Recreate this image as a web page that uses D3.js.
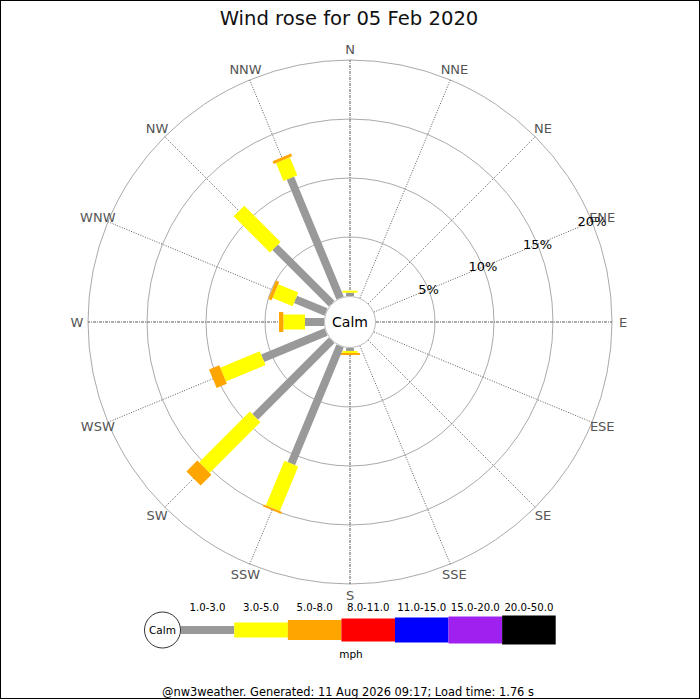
<!DOCTYPE html>
<html>
<head>
<meta charset="utf-8">
<script src="https://cdn.jsdelivr.net/npm/d3@7"></script>
<style>
  body { margin: 0; background: #fff; }
  svg { display: block; font-family: "DejaVu Sans", sans-serif; }
</style>
</head>
<body>
<svg id="chart" width="700" height="700"></svg>
<script>
// ---- data ----
const directions = ["N","NNE","NE","ENE","E","ESE","SE","SSE","S","SSW","SW","WSW","W","WNW","NW","NNW"];
const speedBands = ["1.0-3.0","3.0-5.0","5.0-8.0","8.0-11.0","11.0-15.0","15.0-20.0","20.0-50.0"];
const bandColors = ["#999999","#ffff00","#ffa500","#ff0000","#0000ff","#a020f0","#000000"];
// percentage of time per direction, per speed band (mph)
const band1to3  = [0.28,0,0,0,0,0,0,0,0.25,10.79,9.17,5.81,1.61,2.80,6.76,11.00];
const band3to5  = [0.17,0,0,0,0,0,0,0,0.17,4.09,6.08,3.63,1.84,1.84,4.34,1.65];
const band5to8  = [0,0,0,0,0,0,0,0,0.17,0.17,1.30,0.94,0.36,0.30,0,0.25];
const band8to11 = [0,0,0,0,0,0,0,0,0,0,0,0,0,0,0,0];
const band11to15= [0,0,0,0,0,0,0,0,0,0,0,0,0,0,0,0];
const band15to20= [0,0,0,0,0,0,0,0,0,0,0,0,0,0,0,0];
const band20to50= [0,0,0,0,0,0,0,0,0,0,0,0,0,0,0,0];
const bandValues = [band1to3, band3to5, band5to8, band8to11, band11to15, band15to20, band20to50];
const ringTicks = [5, 10, 15, 20];
const titleText = "Wind rose for 05 Feb 2020";
const footerText = "@nw3weather. Generated: 11 Aug 2026 09:17; Load time: 1.76 s";
const unitText = "mph";

// ---- layout ----
const svg = d3.select("#chart");
const cx = 350, cy = 322;
const calmR = 26;
const r = d3.scaleLinear().domain([0, 20]).range([calmR, 262]);
const bandWidth = d3.scaleOrdinal().domain(speedBands).range([8, 15, 20, 23, 25, 27, 29]);
const angle = d3.scalePoint().domain(directions).range([0, 337.5]);
const rad = a => a * Math.PI / 180;

// border
svg.append("rect").attr("x", 0.5).attr("y", 0.5).attr("width", 699).attr("height", 698)
  .attr("fill", "none").attr("stroke", "#000").attr("stroke-width", 1);

// title
svg.append("text").attr("x", 349).attr("y", 25).attr("text-anchor", "middle")
  .attr("font-size", 19.6).attr("fill", "#111").text(titleText);

const plot = svg.append("g").attr("transform", `translate(${cx},${cy})`);

// rings
plot.selectAll("circle.ring").data(ringTicks).join("circle")
  .attr("class", "ring").attr("r", d => r(d))
  .attr("fill", "none").attr("stroke", "#aaaaaa").attr("stroke-width", 1);

// spokes
plot.selectAll("line.spoke").data(directions).join("line")
  .attr("class", "spoke")
  .attr("x1", d => calmR * Math.sin(rad(angle(d))))
  .attr("y1", d => -calmR * Math.cos(rad(angle(d))))
  .attr("x2", d => r(20) * Math.sin(rad(angle(d))))
  .attr("y2", d => -r(20) * Math.cos(rad(angle(d))))
  .attr("stroke", "#333")
  .attr("stroke-width", 0.8)
  .attr("stroke-dasharray", (d, i) => i % 4 === 0 ? "3,1,1,1" : "1,1.5");

// direction labels
plot.selectAll("text.dir").data(directions).join("text")
  .attr("class", "dir")
  .attr("x", d => 273 * Math.sin(rad(angle(d))))
  .attr("y", d => -273 * Math.cos(rad(angle(d))))
  .attr("text-anchor", "middle").attr("dominant-baseline", "central")
  .attr("font-size", 13).attr("fill", "#555").text(d => d);

// bars
const stacks = [];
directions.forEach((d, i) => {
  let cum = 0;
  speedBands.forEach((b, j) => {
    const v = bandValues[j][i];
    if (v > 0) stacks.push({ dir: d, band: b, color: bandColors[j], start: cum, end: cum + v });
    cum += v;
  });
});
plot.selectAll("rect.bar").data(stacks).join("rect")
  .attr("class", "bar")
  .attr("transform", d => `rotate(${angle(d.dir)})`)
  .attr("x", d => -bandWidth(d.band) / 2)
  .attr("y", d => -r(d.end))
  .attr("width", d => bandWidth(d.band))
  .attr("height", d => r(d.end) - r(d.start))
  .attr("fill", d => d.color);

// calm circle
plot.append("circle").attr("r", calmR - 0.5).attr("fill", "#fff").attr("stroke", "#aaa").attr("stroke-width", 0.8);
plot.append("text").attr("x", 0).attr("y", 0).attr("text-anchor", "middle")
  .attr("dominant-baseline", "central").attr("font-size", 14).attr("fill", "#000").text("Calm");

// percent labels along ENE
const labA = rad(angle("ENE"));
plot.selectAll("text.pct").data(ringTicks).join("text")
  .attr("class", "pct")
  .attr("x", d => r(d) * Math.sin(labA))
  .attr("y", d => -r(d) * Math.cos(labA))
  .attr("text-anchor", "middle").attr("dominant-baseline", "central")
  .attr("font-size", 13).attr("fill", "#000").text(d => d + "%");

// legend
const leg = svg.append("g");
const lx = d3.scaleBand().domain(speedBands).range([180.7, 555.7]);
const ly = 630;
leg.selectAll("rect.leg").data(speedBands).join("rect")
  .attr("class", "leg")
  .attr("x", d => lx(d)).attr("width", lx.bandwidth())
  .attr("y", d => ly - bandWidth(d) / 2).attr("height", d => bandWidth(d))
  .attr("fill", (d, i) => bandColors[i]);
leg.selectAll("text.leg").data(speedBands).join("text")
  .attr("class", "leg")
  .attr("x", d => lx(d) + lx.bandwidth() / 2).attr("y", 610.5)
  .attr("text-anchor", "middle").attr("font-size", 10.2).attr("fill", "#000").text(d => d);
leg.append("circle").attr("cx", 162.5).attr("cy", ly).attr("r", 18)
  .attr("fill", "#fff").attr("stroke", "#000").attr("stroke-width", 0.8);
leg.append("text").attr("x", 162.5).attr("y", ly).attr("text-anchor", "middle")
  .attr("dominant-baseline", "central").attr("font-size", 10.5).text("Calm");
leg.append("text").attr("x", 351).attr("y", 658).attr("text-anchor", "middle")
  .attr("font-size", 10.5).text(unitText);

// footer
svg.append("text").attr("x", 348).attr("y", 696).attr("text-anchor", "middle")
  .attr("font-size", 11.4).attr("fill", "#000").text(footerText);
</script>
</body>
</html>
